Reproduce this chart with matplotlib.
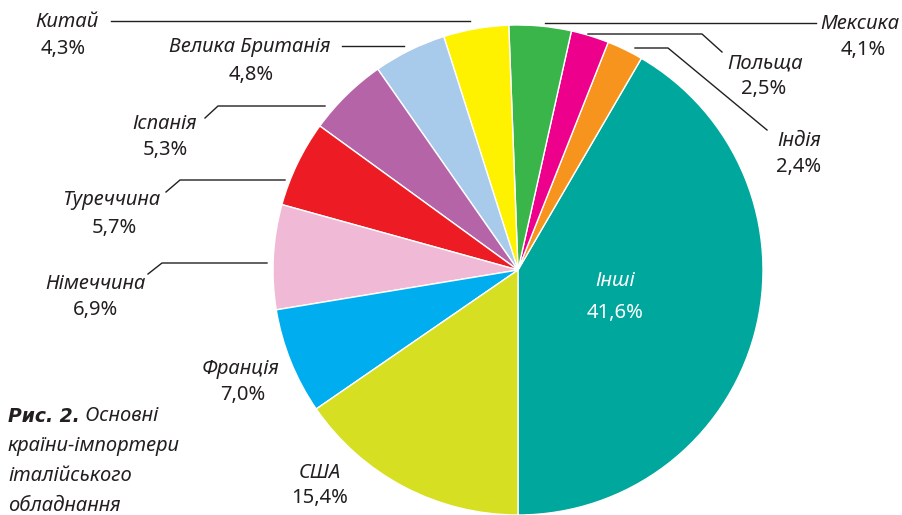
import matplotlib.pyplot as plt
import matplotlib

matplotlib.rcParams['font.family'] = ['Noto Sans', 'DejaVu Sans']
matplotlib.rcParams['font.size'] = 14.5

# дані: частки країн-імпортерів (%), проти годинникової стрілки від низу
countries = ['Інші', 'Індія', 'Польща', 'Мексика', 'Китай', 'Велика Британія',
             'Іспанія', 'Туреччина', 'Німеччина', 'Франція', 'США']
shares = [41.6, 2.4, 2.5, 4.1, 4.3, 4.8, 5.3, 5.7, 6.9, 7.0, 15.4]
colors = ['#00a79d', '#f7941d', '#ec008c', '#39b54a', '#fff200', '#a9cbeb',
          '#b565a7', '#ed1c24', '#f0b9d5', '#00aeef', '#d7df23']

W, H = 902, 515
fig = plt.figure(figsize=(W / 100, H / 100), dpi=100)
ax = fig.add_axes([0, 0, 1, 1])

# центр і радіус круга в пікселях (y рахуємо знизу)
cx, cy, r = 518, H - 270, 245
ax.pie(shares, colors=colors, startangle=-90, counterclock=True,
       center=(cx, cy), radius=r,
       wedgeprops=dict(edgecolor='white', linewidth=1))
ax.set_xlim(0, W)
ax.set_ylim(0, H)
ax.set_aspect('auto')
ax.axis('off')


def px(x, y):
    return x, H - y


# підписи: (x назви, y назви, x відсотка, y відсотка)
labels = {
    'Китай': (67, 22, 63, 49),
    'Велика Британія': (250, 47, 251, 75),
    'Іспанія': (165, 124, 165, 150),
    'Туреччина': (111, 200, 114, 228),
    'Німеччина': (95, 284, 96, 310),
    'Франція': (241, 369, 243, 395),
    'США': (320, 473, 320, 498),
    'Мексика': (860, 24, 863, 50),
    'Польща': (765, 63, 764, 89),
    'Індія': (799, 141, 799, 167),
}
for name, share in zip(countries, shares):
    pct = ('%.1f%%' % share).replace('.', ',')
    if name == 'Інші':
        ax.text(*px(615, 281), name, ha='center', va='center', style='italic', color='white')
        ax.text(*px(615, 313), pct, ha='center', va='center', color='white')
        continue
    x1, y1, x2, y2 = labels[name]
    ax.text(*px(x1, y1), name, ha='center', va='center', style='italic', color='#231f20')
    ax.text(*px(x2, y2), pct, ha='center', va='center', color='#231f20')

# виносні лінії
leaders = [
    [(111, 21), (470, 21)],
    [(342, 46), (404, 46)],
    [(205, 118), (218, 106), (325, 106)],
    [(166, 192), (180, 180), (285, 180)],
    [(148, 274), (162, 263), (267, 263)],
    [(545, 23), (816, 23)],
    [(588, 34), (702, 34), (722, 52)],
    [(635, 48), (668, 48), (767, 130)],
]
for pts in leaders:
    xs = [p[0] for p in pts]
    ys = [H - p[1] for p in pts]
    ax.plot(xs, ys, color='#231f20', lw=1)

# підпис рисунка
t = ax.text(*px(8, 416), 'Рис. 2.', ha='left', va='center', weight='bold',
            style='italic', color='#231f20', family=['DejaVu Sans'], fontsize=13.5)
ax.annotate(' Основні', xy=(1, 0.5), xycoords=t, ha='left', va='center',
            style='italic', color='#231f20')
for i, line in enumerate(['країни-імпортери', 'італійського', 'обладнання']):
    ax.text(*px(8, 446 + 30 * i), line, ha='left', va='center', style='italic',
            color='#231f20')

plt.savefig('out.png', dpi=100)
